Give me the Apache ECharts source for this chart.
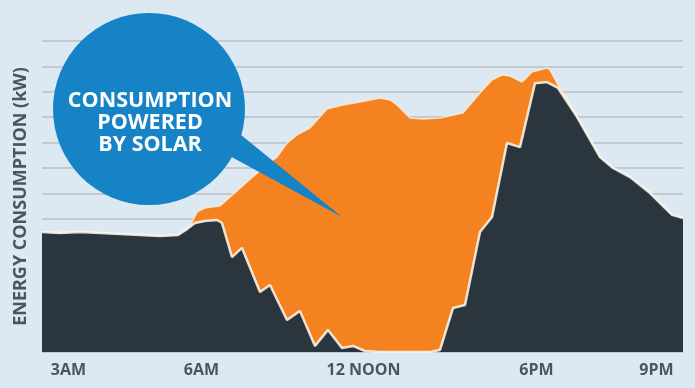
<!DOCTYPE html>
<html>
<head>
<meta charset="utf-8">
<script src="https://cdn.jsdelivr.net/npm/echarts@6/dist/echarts.min.js"></script>
<style>
  html, body { margin: 0; padding: 0; background: #dce9f3; }
  #chart { width: 695px; height: 388px; }
</style>
</head>
<body>
<div id="chart"></div>
<script>
// x values are positions along the (non-linear) time axis, y values in kW (gridline units)
const tickLabels = ['3AM', '6AM', '12 NOON', '6PM', '9PM'];
const tickPositions = [2.65, 15.95, 32.15, 49.45, 61.45];

// Consumption drawn from the grid (dark)
const gridX  = [0, 1.8, 3.8, 5.8, 7.8, 9.8, 11.8, 13.6, 14.5, 15.3, 16.3, 17.5, 18.0, 19.0, 20.0, 21.8, 22.8, 24.5, 25.5, 25.8, 27.3, 28.6, 30.0, 31.1, 32.3, 33.8, 38.8, 39.8, 41.1, 42.3, 43.8, 45.0, 46.5, 47.8, 49.3, 50.5, 51.6, 53.5, 55.8, 57.1, 58.8, 60.8, 63.0, 64.1];
const gridKW = [4.73, 4.69, 4.73, 4.69, 4.65, 4.61, 4.57, 4.61, 4.84, 5.08, 5.16, 5.20, 5.08, 3.74, 4.10, 2.36, 2.64, 1.26, 1.54, 1.61, 0.24, 0.87, 0.16, 0.24, 0.04, 0, 0, 0.08, 1.73, 1.85, 4.73, 5.32, 8.23, 8.07, 10.59, 10.63, 10.40, 9.26, 7.68, 7.25, 6.89, 6.26, 5.40, 5.28];

// Total consumption (orange shows the part powered by solar)
const totalX  = [0, 1.8, 3.8, 5.8, 7.8, 9.8, 11.8, 13.6, 14.5, 14.8, 15.5, 16.3, 17.8, 18.8, 20.5, 22.1, 23.5, 24.5, 25.5, 26.8, 28.5, 30.1, 31.8, 33.8, 34.8, 35.5, 36.8, 38.1, 39.8, 42.1, 43.8, 45.0, 46.0, 46.8, 48.0, 49.0, 50.5, 50.8, 51.5, 51.8, 53.5, 55.8, 57.1, 58.8, 60.8, 63.0, 64.1];
const totalKW = [4.73, 4.69, 4.73, 4.69, 4.65, 4.61, 4.57, 4.61, 4.84, 4.96, 5.51, 5.67, 5.75, 6.10, 6.70, 7.25, 7.68, 8.23, 8.55, 8.82, 9.57, 9.73, 9.85, 10.00, 9.93, 9.73, 9.22, 9.18, 9.22, 9.41, 10.20, 10.71, 10.91, 10.87, 10.63, 11.03, 11.19, 11.11, 10.59, 10.40, 9.26, 7.68, 7.25, 6.89, 6.26, 5.40, 5.28];

const bubbleLines = ['CONSUMPTION', 'POWERED', 'BY SOLAR'];

const pairs = (xs, ys) => xs.map((x, i) => [x, ys[i]]);

const chart = echarts.init(document.getElementById('chart'), null, { renderer: 'canvas' });
chart.setOption({
  animation: false,
  backgroundColor: '#dce9f3',
  grid: { left: 42, right: 12, top: 41, bottom: 36 },
  xAxis: {
    type: 'value', min: 0, max: 64.1,
    axisLine: { show: false }, axisTick: { show: false }, splitLine: { show: false },
    axisLabel: {
      customValues: tickPositions,
      margin: 10,
      color: '#4a5560', fontSize: 16, fontWeight: 'bold', fontFamily: 'Open Sans',
      formatter: function (v) {
        let best = 0;
        tickPositions.forEach((p, i) => { if (Math.abs(p - v) < Math.abs(tickPositions[best] - v)) best = i; });
        return tickLabels[best];
      }
    }
  },
  yAxis: [
    {
      type: 'value', min: 0, max: 12.25,
      name: 'ENERGY CONSUMPTION (kW)', nameLocation: 'middle', nameGap: 12,
      nameTextStyle: { color: '#4a5560', fontSize: 18, fontWeight: 'bold', fontFamily: 'Open Sans' },
      axisLine: { show: false }, axisTick: { show: false }, axisLabel: { show: false },
      splitLine: { show: false }
    },
    {
      type: 'value', min: 0, max: 12.25, interval: 1, inverse: true,
      axisLine: { show: false }, axisTick: { show: false }, axisLabel: { show: false },
      splitLine: { show: true, lineStyle: { color: '#c4c9cf', width: 2 } }
    }
  ],
  series: [
    {
      name: 'Total', type: 'line', yAxisIndex: 0, data: pairs(totalX, totalKW),
      symbol: 'none', smooth: false,
      lineStyle: { color: 'rgba(255,236,210,0.8)', width: 1.5 },
      areaStyle: { color: '#f58220', opacity: 1 },
      z: 2
    },
    {
      name: 'Grid', type: 'line', yAxisIndex: 0, data: pairs(gridX, gridKW),
      symbol: 'none', smooth: false,
      lineStyle: { color: 'rgba(255,250,240,0.85)', width: 2.5 },
      areaStyle: { color: '#2b353e', opacity: 1 },
      z: 3
    }
  ],
  graphic: {
    zlevel: 1,
    elements: [
      { type: 'polygon', z: 100, shape: { points: [[230, 126], [215, 148], [342, 217]] }, style: { fill: '#1683c6' } },
      { type: 'circle', z: 101, shape: { cx: 149, cy: 109, r: 96 }, style: { fill: '#1683c6' } },
      {
        type: 'text', z: 102, x: 150, y: 123,
        style: {
          text: bubbleLines.join('\n'), fill: '#ffffff', align: 'center', verticalAlign: 'middle',
          font: 'bold 21.5px "Open Sans"', lineHeight: 22
        }
      }
    ]
  }
});
</script>
</body>
</html>
